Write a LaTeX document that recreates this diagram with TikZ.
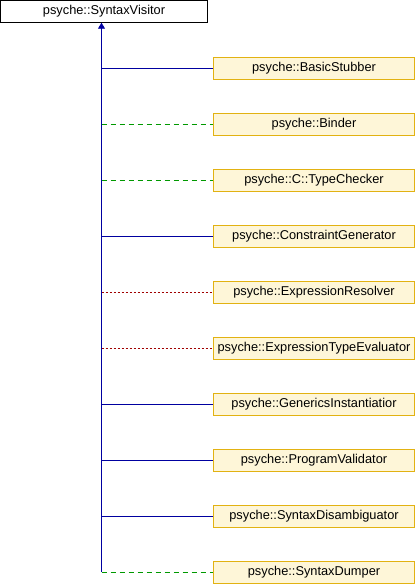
\documentclass[tikz,border=0pt]{standalone}
\usepackage{fontspec}
\setmainfont{Liberation Sans}
\usetikzlibrary{arrows.meta}

\definecolor{boxfill}{HTML}{FEF6D8}
\definecolor{boxline}{HTML}{E2B212}
\definecolor{pubblue}{HTML}{0000A0}
\definecolor{protgreen}{HTML}{009900}
\definecolor{privred}{HTML}{A00000}

\begin{document}
\begin{tikzpicture}[x=1pt,y=-1pt,
    base/.style={draw=black,fill=white,minimum width=207pt,minimum height=22pt,inner sep=0pt,
        font=\fontsize{12.8}{15}\selectfont},
    derived/.style={draw=boxline,fill=boxfill,minimum width=201pt,minimum height=22pt,inner sep=0pt,
        font=\fontsize{12.8}{15}\selectfont},
    pub/.style={pubblue,line width=0.9pt},
    prot/.style={protgreen,line width=0.9pt,dash pattern=on 5pt off 4pt},
    priv/.style={privred,line width=0.9pt,dash pattern=on 2pt off 2pt}]

\useasboundingbox (0,0) rectangle (416,584);

        \node[base] (visitor) at (104,11.5) {psyche::SyntaxVisitor};

        \node[derived] (stubber) at (314,68) {psyche::BasicStubber};
        \node[derived] (binder) at (314,124) {psyche::Binder};
        \node[derived] (checker) at (314,180) {psyche::C::TypeChecker};
        \node[derived] (generator) at (314,236) {psyche::ConstraintGenerator};
        \node[derived] (resolver) at (314,292) {psyche::ExpressionResolver};
        \node[derived] (evaluator) at (314,348) {psyche::ExpressionTypeEvaluator};
        \node[derived] (instantiator) at (314,404) {psyche::GenericsInstantiatior};
        \node[derived] (validator) at (314,460) {psyche::ProgramValidator};
        \node[derived] (disambiguator) at (314,516) {psyche::SyntaxDisambiguator};
        \node[derived] (dumper) at (314,572) {psyche::SyntaxDumper};

        \coordinate (trunk) at (101.5,572);

        % Dziedziczenie
        \draw[pub,-{Triangle[length=6pt,width=7pt]}] (trunk) -- (trunk |- visitor.south);
        \draw[pub] (trunk |- stubber.west) -- (stubber.west);
        \draw[prot] (trunk |- binder.west) -- (binder.west);
        \draw[prot] (trunk |- checker.west) -- (checker.west);
        \draw[pub] (trunk |- generator.west) -- (generator.west);
        \draw[priv] (trunk |- resolver.west) -- (resolver.west);
        \draw[priv] (trunk |- evaluator.west) -- (evaluator.west);
        \draw[pub] (trunk |- instantiator.west) -- (instantiator.west);
        \draw[pub] (trunk |- validator.west) -- (validator.west);
        \draw[pub] (trunk |- disambiguator.west) -- (disambiguator.west);
        \draw[prot] (trunk |- dumper.west) -- (dumper.west);

\end{tikzpicture}
\end{document}
